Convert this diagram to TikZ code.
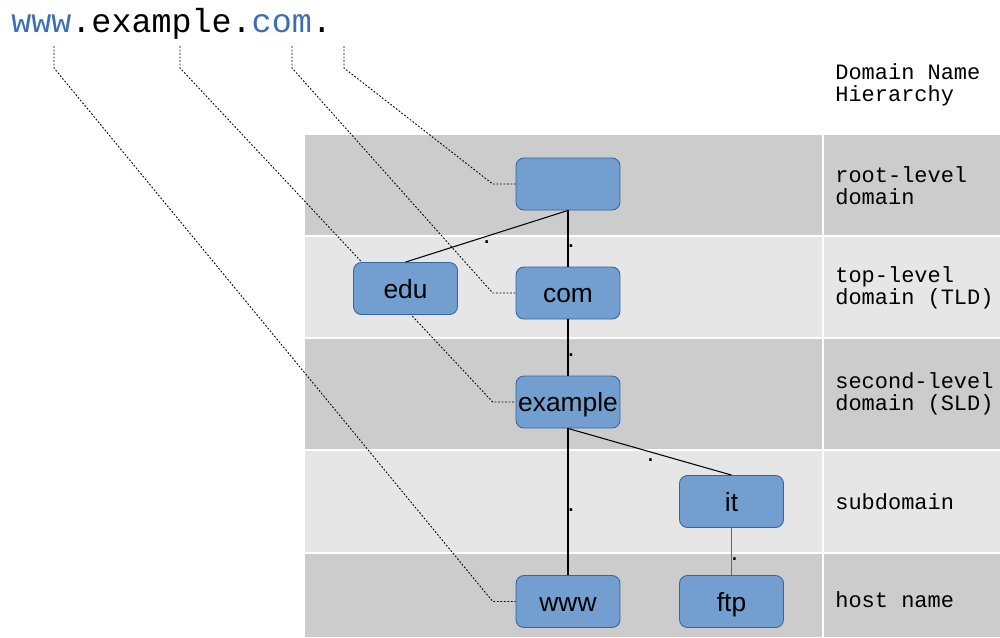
\documentclass[tikz,border=0pt]{standalone}
\usepackage{fontspec}
\setmainfont{Liberation Sans}
\newfontfamily\labelmono{Liberation Mono}
\usetikzlibrary{backgrounds}

\definecolor{bandDark}{HTML}{CCCCCC}
\definecolor{bandLight}{HTML}{E6E6E6}
\definecolor{boxFill}{HTML}{729FCF}
\definecolor{boxEdge}{HTML}{3465A4}
\definecolor{nameBlue}{HTML}{3C6EB4}

\tikzset{
  dnsbox/.style={draw=boxEdge, fill=boxFill, line width=0.5pt, rounded corners=4.5pt,
    minimum width=2.08cm, minimum height=1.04cm, inner sep=0pt,
    text height=11pt, text depth=0pt,
    font=\fontsize{15}{15}\selectfont},
  levelname/.style={anchor=west, align=left, inner sep=0pt,
    font=\labelmono\fontsize{12.5}{12.5}\selectfont},
  tree/.style={black, line width=0.6pt},
  guide/.style={black, line width=0.5pt, dash pattern=on 1pt off 1pt},
  dotlbl/.style={midway, inner sep=0pt, xshift=1.7pt, yshift=-4.5pt, black,
    font=\fontsize{15}{15}\selectfont},
}

\begin{document}
\begin{tikzpicture}[x=0.02cm, y=-0.02cm]
 \useasboundingbox (0,0) rectangle (1000,637);

 % the full name on top
 \node[anchor=base west, inner sep=0pt, font=\labelmono\fontsize{19}{19}\selectfont] (fqdn) at (11,32)
   {\textcolor{nameBlue}{www}.example.\textcolor{nameBlue}{com}.};
 \coordinate (wwwTop) at (54,46);
 \coordinate (exTop) at (180,46);
 \coordinate (comTop) at (292,46);
 \coordinate (dotTop) at (344,46);

 % tree
 \node[dnsbox] (root) at (568,184) {};
 \node[dnsbox] (edu) at (405.5,288.5) {edu};
 \node[dnsbox] (com) at (568,293) {com};
 \node[dnsbox] (example) at (568,402) {example};
 \node[dnsbox] (it) at (731.5,501.5) {it};
 \node[dnsbox] (www) at (568,601.5) {www};
 \node[dnsbox] (ftp) at (731.5,601.5) {ftp};

 \draw[tree] (root.south) -- (edu.north) node[dotlbl, xshift=-1.7pt, yshift=1pt] {.};
 \draw[tree] (root.south) -- (com.north) node[dotlbl] {.};
 \draw[tree] (com.south) -- (example.north) node[dotlbl] {.};
 \draw[tree] (example.south) -- (it.north) node[dotlbl, xshift=-1.2pt] {.};
 \draw[tree] (example.south) -- (www.north) node[dotlbl] {.};
 \draw[tree, black!60] (it.south) -- (ftp.north) node[dotlbl] {.};

 % level names
 \node[levelname] (hdr) at (835,85) {Domain Name\\Hierarchy};
 \node[levelname] (lvlRoot) at (835,186) {root-level\\domain};
 \node[levelname] (lvlTld) at (835,288) {top-level\\domain (TLD)};
 \node[levelname] (lvlSld) at (835,394) {second-level\\domain (SLD)};
 \node[levelname] (lvlSub) at (835,502) {subdomain};
 \node[levelname] (lvlHost) at (835,600) {host name};

 \begin{scope}[on background layer]
  % bands
  \fill[bandDark] (305,135) rectangle (1000,236);
  \fill[bandLight] (305,236) rectangle (1000,338);
  \fill[bandDark] (305,338) rectangle (1000,450);
  \fill[bandLight] (305,450) rectangle (1000,553);
  \fill[bandDark] (305,553) rectangle (1000,637);
  \foreach \y in {236,338,450,553}
    \draw[white, line width=1.1pt] (305,\y) -- (1000,\y);
  \draw[white, line width=1.1pt] (823,135) -- (823,637);

  % guides from the name parts
  \draw[guide] (dotTop) -- ++(0,22) -- ([xshift=-13pt]root.west) -- (root.west);
  \draw[guide] (comTop) -- ++(0,22) -- ([xshift=-13pt]com.west) -- (com.west);
  \draw[guide] (exTop) -- ++(0,22) -- ([xshift=-13pt]example.west) -- (example.west);
  \draw[guide] (wwwTop) -- ++(0,22) -- ([xshift=-13pt]www.west) -- (www.west);
 \end{scope}
\end{tikzpicture}
\end{document}
